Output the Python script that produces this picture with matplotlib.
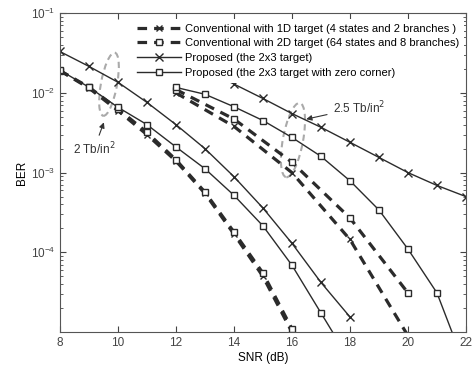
import numpy as np
import matplotlib.pyplot as plt
from matplotlib.patches import Ellipse

plt.rcParams['font.family'] = ['Liberation Sans', 'DejaVu Sans']

# 2 Tb/in^2 group
snr_a = [8, 9, 10, 11, 12, 13, 14, 15, 16]
conv1d_a = [1.9e-2, 1.15e-2, 6.0e-3, 3.0e-3, 1.4e-3, 5.5e-4, 1.7e-4, 5.0e-5, 1.0e-5]
conv2d_a = [1.9e-2, 1.18e-2, 6.3e-3, 3.2e-3, 1.45e-3, 5.7e-4, 1.8e-4, 5.5e-5, 1.1e-5]
snr_pa = [8, 9, 10, 11, 12, 13, 14, 15, 16, 17, 18]
prop_a = [3.3e-2, 2.15e-2, 1.36e-2, 7.6e-3, 4.0e-3, 2.0e-3, 8.9e-4, 3.6e-4, 1.3e-4, 4.2e-5, 1.55e-5]
snr_za = [8, 9, 10, 11, 12, 13, 14, 15, 16, 17, 18]
zero_a = [1.92e-2, 1.18e-2, 6.6e-3, 4.0e-3, 2.1e-3, 1.12e-3, 5.2e-4, 2.15e-4, 6.9e-5, 1.74e-5, 4.4e-6]

# 2.5 Tb/in^2 group
snr_b = [12, 14, 16, 18, 20]
conv1d_b = [1.0e-2, 3.8e-3, 1.0e-3, 1.45e-4, 9e-6]
conv2d_b = [1.1e-2, 4.7e-3, 1.35e-3, 2.7e-4, 3.1e-5]
snr_pb = [12, 13, 14, 15, 16, 17, 18, 19, 20, 21, 22]
prop_b = [2.9e-2, 1.95e-2, 1.29e-2, 8.5e-3, 5.5e-3, 3.7e-3, 2.4e-3, 1.55e-3, 1.0e-3, 6.9e-4, 5.0e-4]
snr_zb = [12, 13, 14, 15, 16, 17, 18, 19, 20, 21, 22]
zero_b = [1.17e-2, 9.6e-3, 6.7e-3, 4.5e-3, 2.76e-3, 1.6e-3, 7.9e-4, 3.4e-4, 1.1e-4, 3.1e-5, 3.5e-6]

labels = ['Conventional with 1D target (4 states and 2 branches )',
          'Conventional with 2D target (64 states and 8 branches)',
          'Proposed (the 2x3 target)',
          'Proposed (the 2x3 target with zero corner)']

c = '#2b2b2b'
fig = plt.figure(figsize=(4.75, 3.74), dpi=100)
ax = fig.add_axes([0.126, 0.112, 0.855, 0.853])

dash = dict(color=c, lw=2.3, dashes=(3, 2.2))
ax.plot(snr_a, conv1d_a, marker='x', ms=5, mew=1, **dash, label=labels[0])
ax.plot(snr_a, conv2d_a, marker='s', ms=4.5, mew=1, mfc='white', **dash, label=labels[1])
ax.plot(snr_pa, prop_a, color=c, lw=1, marker='x', ms=6, mew=1, label=labels[2])
ax.plot(snr_za, zero_a, color=c, lw=1, marker='s', ms=4.5, mew=1, mfc='white', label=labels[3])

ax.plot(snr_b, conv1d_b, marker='x', ms=5, mew=1, **dash)
ax.plot(snr_b, conv2d_b, marker='s', ms=4.5, mew=1, mfc='white', **dash)
ax.plot(snr_pb, prop_b, color=c, lw=1, marker='x', ms=6, mew=1)
ax.plot(snr_zb, zero_b, color=c, lw=1, marker='s', ms=4.5, mew=1, mfc='white')

ax.set_yscale('log')
ax.set_xlim(8, 22)
ax.set_ylim(1e-5, 1e-1)
ax.set_xticks([8, 10, 12, 14, 16, 18, 20, 22])
ax.set_yticks([1e-4, 1e-3, 1e-2, 1e-1])
ax.tick_params(which='both', direction='in', top=True, right=True, labelsize=8.5, colors='#444444')
ax.tick_params(which='major', length=4)
ax.tick_params(which='minor', length=2)
for s in ax.spines.values():
    s.set_color('#555555')
ax.set_xlabel('SNR (dB)', fontsize=8.5, labelpad=2)
ax.set_ylabel('BER', fontsize=8.5, labelpad=2)

leg = ax.legend(loc='upper right', bbox_to_anchor=(1.0, 0.99), fontsize=8, frameon=True,
                edgecolor='none', facecolor='white', framealpha=1, handlelength=4.0,
                handletextpad=0.3, labelspacing=0.42, borderaxespad=0.2, borderpad=0.45)
leg.set_zorder(5)

# annotations
ax.annotate('2 Tb/in$^2$', xy=(9.55, 4.6e-3), xytext=(8.45, 1.7e-3), fontsize=8.5, color='#333333',
            arrowprops=dict(arrowstyle='-|>', color='#333333', lw=0.8, mutation_scale=8))
ax.annotate('2.5 Tb/in$^2$', xy=(16.4, 4.6e-3), xytext=(17.4, 5.6e-3), fontsize=8.5, color='#333333',
            arrowprops=dict(arrowstyle='-|>', color='#333333', lw=0.8, mutation_scale=8))
ax.add_patch(Ellipse((0.121, 0.777), 0.04, 0.20, transform=ax.transAxes, fill=False,
                     ec='#aaaaaa', lw=1.5, ls=(0, (3, 2)), angle=-8))
ax.add_patch(Ellipse((0.574, 0.602), 0.05, 0.235, transform=ax.transAxes, fill=False,
                     ec='#aaaaaa', lw=1.5, ls=(0, (3, 2)), angle=-8))

plt.savefig('out.png', dpi=100)
